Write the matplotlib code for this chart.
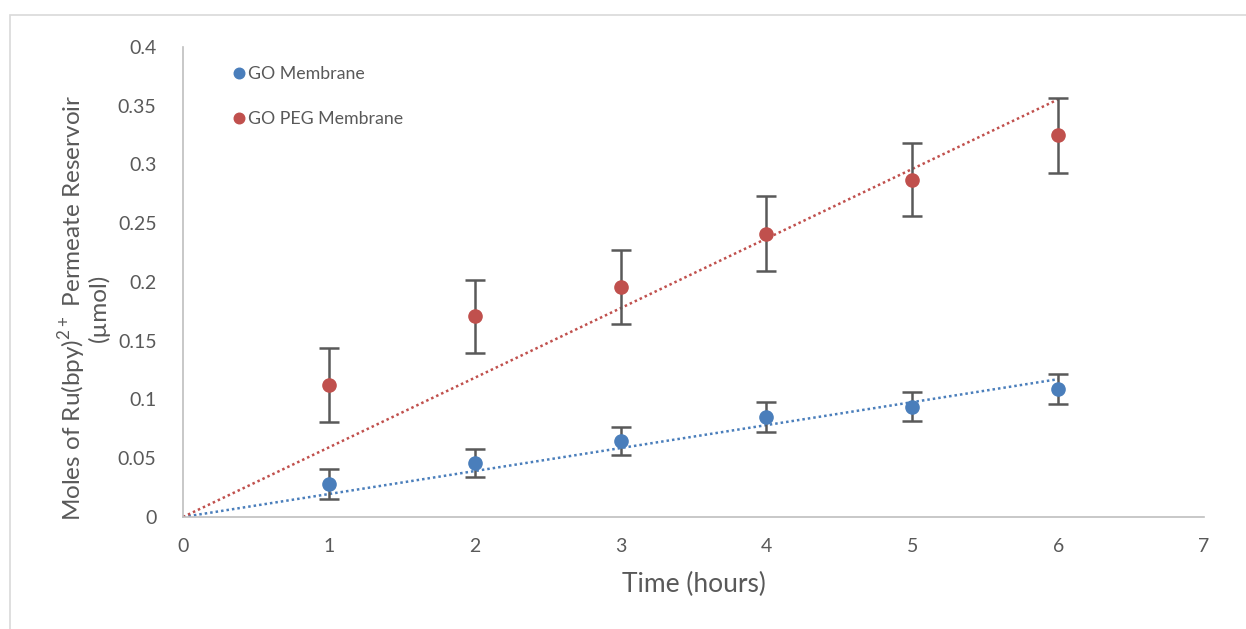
import matplotlib
matplotlib.use("Agg")
import matplotlib.pyplot as plt
import numpy as np
from matplotlib.patches import Rectangle

plt.rcParams['font.family'] = ['Lato', 'DejaVu Sans']
plt.rcParams['mathtext.fontset'] = 'custom'
plt.rcParams['mathtext.rm'] = 'Lato'

# data
hours = [1, 2, 3, 4, 5, 6]
go_moles = [0.028, 0.046, 0.065, 0.085, 0.094, 0.109]
go_err = [0.013, 0.012, 0.012, 0.013, 0.0125, 0.0125]
peg_moles = [0.112, 0.171, 0.196, 0.241, 0.287, 0.325]
peg_err = [0.0315, 0.031, 0.0315, 0.032, 0.031, 0.032]

BLUE = "#4A7EBB"
RED = "#C0504D"
GRAY = "#595959"
AXIS_GRAY = "#BFBFBF"

fig = plt.figure(figsize=(12.46, 6.29), dpi=100)
ax = fig.add_axes([183/1246, 1 - 517/629, (1204 - 183)/1246, (517 - 47)/629])

# outer chart frame
fig.patches.append(Rectangle((10/1246, -0.05), 1.2, 1 - 15/629 + 0.05,
                             transform=fig.transFigure, fill=False,
                             edgecolor="#D9D9D9", linewidth=1.2))

series = [(go_moles, go_err, BLUE, "GO Membrane"),
          (peg_moles, peg_err, RED, "GO PEG Membrane")]

for y, err, color, label in series:
    x = np.array(hours, dtype=float)
    y = np.array(y)
    # linear trendline forced through the origin
    slope = np.sum(x * y) / np.sum(x * x)
    xt = np.array([0, 6])
    ax.plot(xt, slope * xt, linestyle=(0, (1, 1.2)), color=color, linewidth=1.8, zorder=2)
    ax.errorbar(x, y, yerr=err, fmt='none', ecolor=GRAY, elinewidth=1.8,
                capsize=7, capthick=1.8, zorder=3)
    ax.plot(x, y, 'o', color=color, markersize=9.5, label=label, zorder=4, linestyle='none')

ax.set_xlim(0, 7)
ax.set_ylim(0, 0.4)
ax.set_xticks(range(0, 8))
ax.set_yticks(np.arange(0, 0.401, 0.05))
ax.set_yticklabels(["0", "0.05", "0.1", "0.15", "0.2", "0.25", "0.3", "0.35", "0.4"])

for s in ['top', 'right']:
    ax.spines[s].set_visible(False)
for s in ['left', 'bottom']:
    ax.spines[s].set_color(AXIS_GRAY)
    ax.spines[s].set_linewidth(1.2)

ax.tick_params(axis='both', length=0, labelsize=14, colors=GRAY)
ax.tick_params(axis='x', pad=15)
ax.tick_params(axis='y', pad=19)

ax.set_xlabel("Time (hours)", fontsize=19, color=GRAY, labelpad=12)
fig.text(83/1246, 1 - 308/629,
         "Moles of Ru(bpy)$^{\\mathrm{2+}}$ Permeate Reservoir\n(µmol)",
         rotation=90, ha='center', va='center', fontsize=17.5, color=GRAY,
         multialignment='center', linespacing=1.0)

leg = ax.legend(loc='upper left', bbox_to_anchor=(0.03, 0.993), frameon=False,
                fontsize=12.8, handletextpad=0.05, labelspacing=1.6,
                handlelength=1.0, markerscale=0.8, labelcolor=GRAY)

fig.savefig("out.png", dpi=100)
